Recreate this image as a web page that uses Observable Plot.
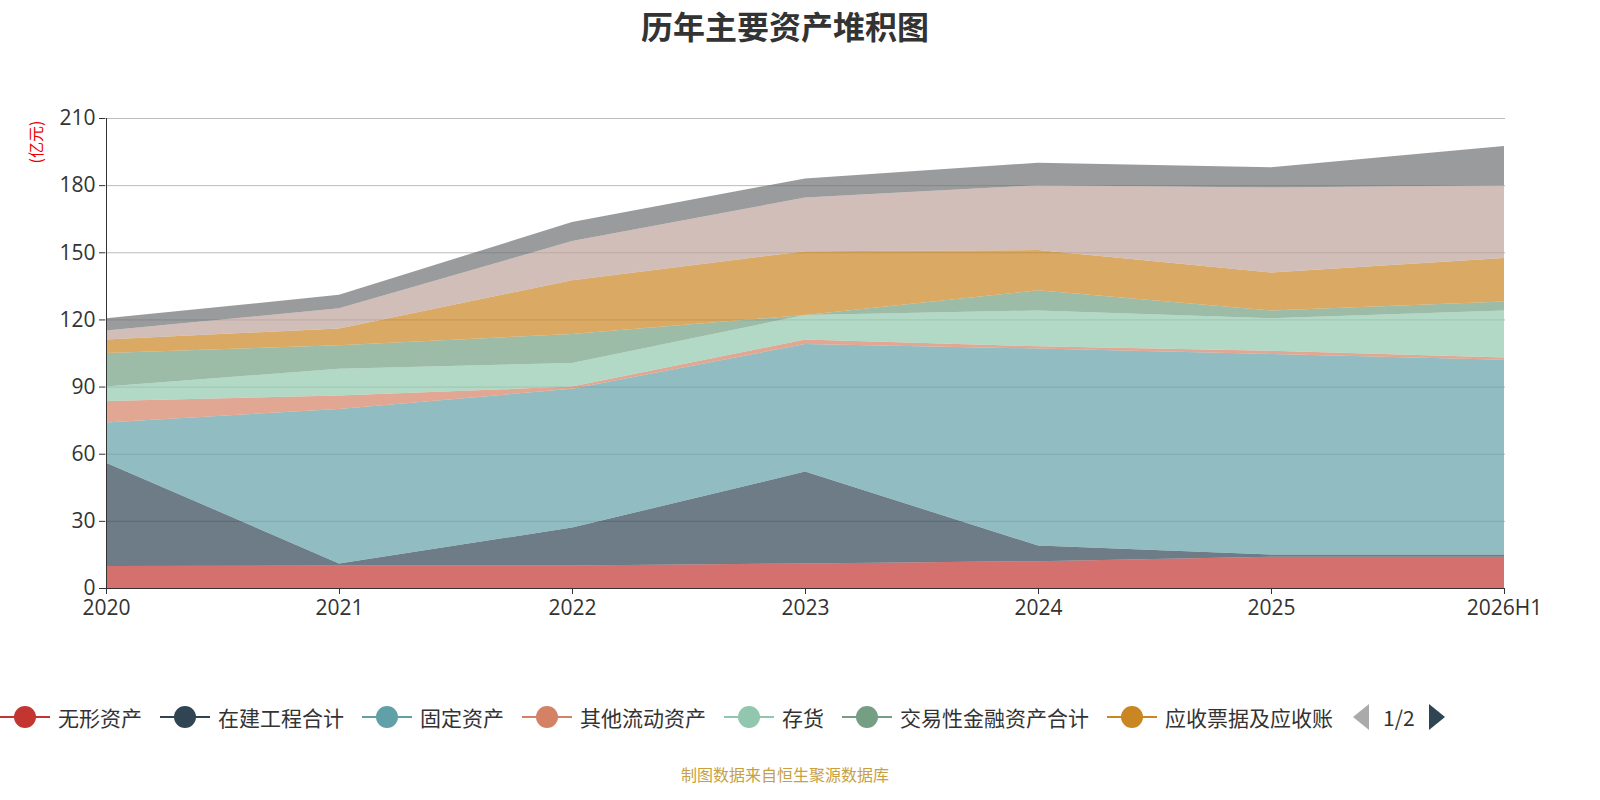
<!DOCTYPE html>
<html><head><meta charset="utf-8">
<script src="https://cdn.jsdelivr.net/npm/d3@7"></script>
<script src="https://cdn.jsdelivr.net/npm/@observablehq/plot@0.6"></script>
<style>
html,body{margin:0;background:#fff;overflow:hidden;font-family:"Noto Sans CJK SC","Noto Sans",sans-serif;}
#wrap{position:relative;width:1600px;height:800px;}
#chart svg{max-width:none !important;}
#title{position:absolute;top:2px;left:0;width:1570px;text-align:center;font-size:32px;font-weight:bold;color:#333;}
#unit{position:absolute;left:14px;top:130px;color:#e00;font-size:16px;transform:rotate(-90deg);transform-origin:center;}
#legend{position:absolute;top:702px;left:0;display:flex;align-items:center;font-size:21px;color:#333;white-space:nowrap;}
.item{display:flex;align-items:center;margin-right:18px;}
.icon{position:relative;width:50px;height:30px;margin-right:8px;}
.icon .ln{position:absolute;left:0;top:14px;width:50px;height:2px;}
.icon .dot{position:absolute;left:14px;top:4px;width:22px;height:22px;border-radius:50%;}
#caption{position:absolute;top:762px;left:0;width:1570px;text-align:center;font-size:16px;color:#c8a040;}
</style></head><body>
<div id="wrap"><div id="title">历年主要资产堆积图</div><div id="chart"></div><div id="unit">(亿元)</div><div id="legend"></div><div id="caption">制图数据来自恒生聚源数据库</div></div>
<script>
const years=["2020","2021","2022","2023","2024","2025","2026H1"];
const seriesNames=["无形资产","在建工程合计","固定资产","其他流动资产","存货","交易性金融资产合计","应收票据及应收账款","货币资金","其他资产"];
const colors=["#c23531","#2f4554","#61a0a8","#d48265","#91c7ae","#749f83","#ca8622","#bda29a","#6e7074"];
const s0=[9.8,10,10,11,12,14,14];
const s1=[46.2,1,17,41,7,1,1];
const s2=[18,69,62,57,88,89.5,87];
const s3=[9.5,6,1,2,1,1.5,1];
const s4=[6.5,12,10.5,11,16,14.5,21];
const s5=[15,10.5,13,0,9,3.5,4];
const s6=[6,7.5,24,28.5,18,17,19.5];
const s7=[4,9,17.5,24,29,38,32.5];
const s8=[5.5,6,8.5,8.5,10,9,17.5];
const yTicks=[0,30,60,90,120,150,180,210];
const all=[s0,s1,s2,s3,s4,s5,s6,s7,s8];
const data=[];
all.forEach((s,i)=>s.forEach((v,j)=>data.push({year:years[j],name:seriesNames[i],value:v})));
const chart=Plot.plot({
 width:1600,height:650,marginTop:118,marginBottom:62,marginLeft:105,marginRight:95,
 style:{fontSize:"21px",color:"#333",fontFamily:"Open Sans,Noto Sans,sans-serif"},
 x:{type:"point",domain:years,label:null,padding:0},
 y:{domain:[0,210],label:null},
 color:{domain:seriesNames,range:colors},
 marks:[
  Plot.gridY(yTicks,{stroke:"#bbb",strokeOpacity:1}),
  Plot.areaY(data,{x:"year",y:"value",fill:"name",z:"name",order:null,fillOpacity:0.7}),
  Plot.ruleX([years[0]],{stroke:"#333"}),
  Plot.ruleY([0],{stroke:"#333"}),
  Plot.axisY({ticks:yTicks,tickSize:6,tickPadding:4,fontSize:21,label:null}),
  Plot.axisX({tickSize:6,tickPadding:6,fontSize:21,label:null})
 ]});
document.getElementById("chart").appendChild(chart);
const lg=document.getElementById("legend");
seriesNames.slice(0,7).forEach((n,i)=>{const d=document.createElement("div");d.className="item";
 d.innerHTML=`<div class="icon"><div class="ln" style="background:${colors[i]}"></div><div class="dot" style="background:${colors[i]}"></div></div>${i==6?"应收票据及应收账":n}`;lg.appendChild(d);});
const p=document.createElement("div");p.style.display="flex";p.style.alignItems="center";
p.innerHTML=`<svg width="20" height="30"><polygon points="18,2 18,28 2,15" fill="#aaa"/></svg><span style="margin:0 12px">1/2</span><svg width="20" height="30"><polygon points="2,2 2,28 18,15" fill="#2f4554"/></svg>`;
lg.appendChild(p);
</script></body></html>
